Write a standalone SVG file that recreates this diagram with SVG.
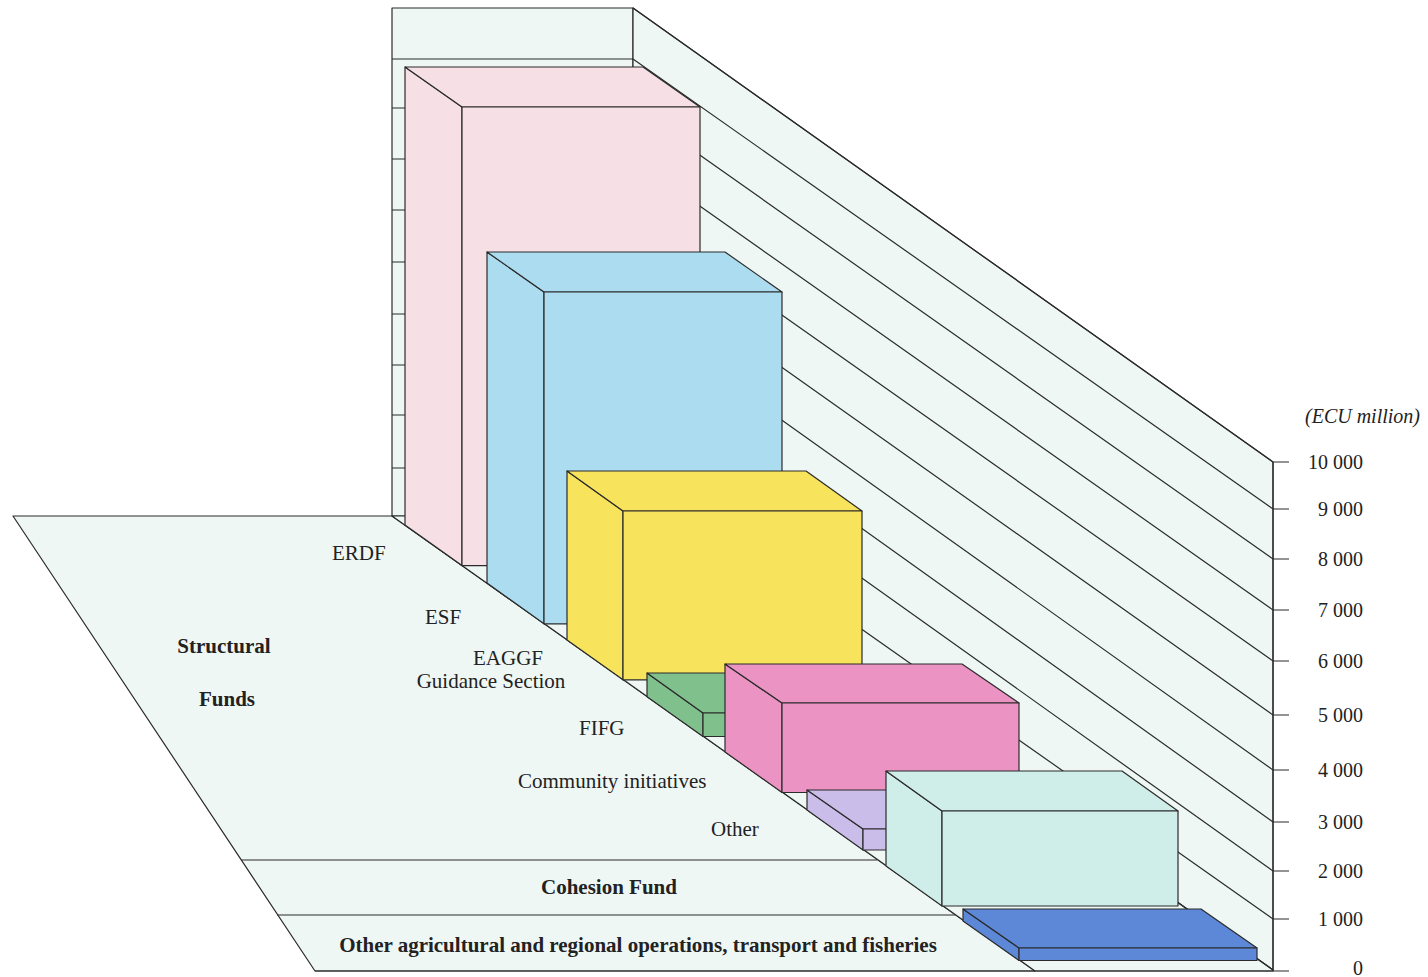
<svg xmlns="http://www.w3.org/2000/svg" width="1428" height="977" viewBox="0 0 1428 977">
<style>
.pale{fill:#eff7f4;stroke:#2b2b2b;stroke-width:1.2;stroke-linejoin:round}
.ln{stroke:#2b2b2b;stroke-width:1.2;fill:none}
.bar polygon{stroke:#2b2b2b;stroke-width:1.2;stroke-linejoin:round}
.t{font-family:"Liberation Serif","Times New Roman",serif;font-size:21px;fill:#222}
.b{font-weight:bold}
.ax{font-family:"Liberation Serif","Times New Roman",serif;font-size:20px;fill:#222;text-anchor:end}
</style>
<rect width="1428" height="977" fill="#ffffff"/>
<g id="walls">
<rect class="pale" x="392" y="8" width="241" height="508"/>
<polygon class="pale" points="633,8 1273,462 1273,970 633,516"/>
<polygon class="pale" points="13,516 392,516 1035,971 315,971"/>
<polygon class="pale" points="392,516 633,516 1273,970 1273,971 1035,971"/>
</g>
<g id="gridlines" class="ln">
<path d="M392,59H633M392,108H633M392,159H633M392,210H633M392,262H633M392,314H633M392,365H633M392,415H633M392,468H633"/>
<path d="M633,8L1273,462M633,59L1273,509M633,108L1273,559M633,159L1273,610M633,210L1273,661M633,262L1273,715M633,314L1273,770M633,365L1273,822M633,415L1273,871M633,468L1273,919M633,516L1273,970"/>
<path d="M1273,462V971M1273,462H1289M1273,509H1289M1273,559H1289M1273,610H1289M1273,661H1289M1273,715H1289M1273,770H1289M1273,822H1289M1273,871H1289M1273,919H1289M315,971H1289"/>
<path d="M241,860H877M277,915H955"/>
</g>
<g id="bar-erdf" class="bar" fill="#f6e0e6">
<polygon points="405,67 462,107 462,565.6 405,525"/>
<polygon points="405,67 643,67 700,107 462,107"/>
<polygon points="462,107 700,107 700,565.6 462,565.6"/>
</g>
<g id="bar-esf" class="bar" fill="#acdcf0">
<polygon points="487,252 544,292 544,623.8 487,583"/>
<polygon points="487,252 725,252 782,292 544,292"/>
<polygon points="544,292 782,292 782,623.8 544,623.8"/>
</g>
<g id="bar-eaggf" class="bar" fill="#f8e35c">
<polygon points="567,471 623,511 623,679.8 567,640"/>
<polygon points="567,471 806,471 862,511 623,511"/>
<polygon points="623,511 862,511 862,679.8 623,679.8"/>
</g>
<g id="bar-fifg" class="bar" fill="#80c08c">
<polygon points="647,673 703,713 703,736.5 647,696.8"/>
<polygon points="647,673 885,673 941,713 703,713"/>
<polygon points="703,713 941,713 941,736.5 703,736.5"/>
</g>
<g id="bar-community" class="bar" fill="#eb93c2">
<polygon points="725,664 782,703 782,792.5 725,752"/>
<polygon points="725,664 962,664 1019,703 782,703"/>
<polygon points="782,703 1019,703 1019,792.5 782,792.5"/>
</g>
<g id="bar-other" class="bar" fill="#cbbdea">
<polygon points="807,790 863,829 863,850 807,810"/>
<polygon points="807,790 1045,790 1101,829 863,829"/>
<polygon points="863,829 1101,829 1101,850 863,850"/>
</g>
<g id="bar-cohesion" class="bar" fill="#cfeeea">
<polygon points="886,771 942,811 942,906 886,866"/>
<polygon points="886,771 1122,771 1178,811 942,811"/>
<polygon points="942,811 1178,811 1178,906 942,906"/>
</g>
<g id="bar-otheragri" class="bar" fill="#5d88d8">
<polygon points="963,909 1019,948 1019,960.5 963,921"/>
<polygon points="963,909 1201,909 1257,948 1019,948"/>
<polygon points="1019,948 1257,948 1257,960.5 1019,960.5"/>
</g>
<g id="floor-labels">
<text class="t" x="332" y="560">ERDF</text>
<text class="t" x="425" y="624">ESF</text>
<text class="t" x="508" y="665" text-anchor="middle">EAGGF</text>
<text class="t" x="491" y="688" text-anchor="middle">Guidance Section</text>
<text class="t" x="579" y="735">FIFG</text>
<text class="t" x="518" y="788">Community initiatives</text>
<text class="t" x="711" y="836">Other</text>
<text class="t b" x="224" y="653" text-anchor="middle">Structural</text>
<text class="t b" x="227" y="706" text-anchor="middle">Funds</text>
<text class="t b" x="609" y="894" text-anchor="middle">Cohesion Fund</text>
<text class="t b" x="638" y="952" text-anchor="middle">Other agricultural and regional operations, transport and fisheries</text>
</g>
<g id="axis-labels">
<text class="ax" x="1420" y="423" font-style="italic">(ECU million)</text>
<text class="ax" x="1363" y="469">10 000</text>
<text class="ax" x="1363" y="516">9 000</text>
<text class="ax" x="1363" y="566">8 000</text>
<text class="ax" x="1363" y="617">7 000</text>
<text class="ax" x="1363" y="668">6 000</text>
<text class="ax" x="1363" y="722">5 000</text>
<text class="ax" x="1363" y="777">4 000</text>
<text class="ax" x="1363" y="829">3 000</text>
<text class="ax" x="1363" y="878">2 000</text>
<text class="ax" x="1363" y="926">1 000</text>
<text class="ax" x="1363" y="975">0</text>
</g>
</svg>
